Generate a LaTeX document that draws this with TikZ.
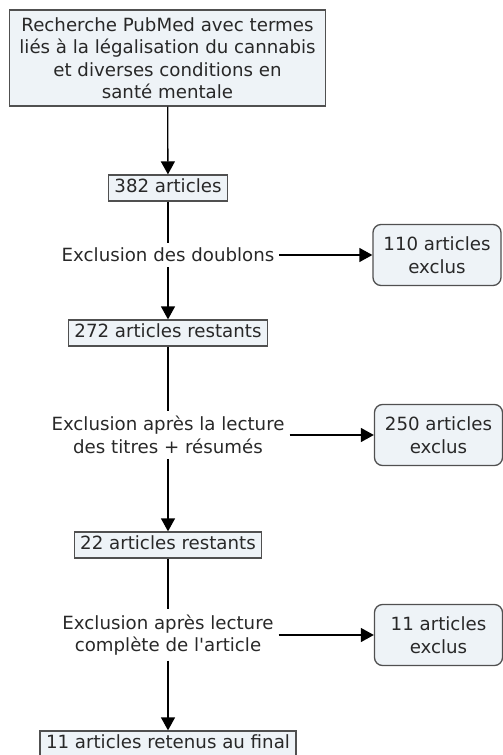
\documentclass[tikz,border=0pt]{standalone}
\usepackage{fontspec}
\setmainfont{DejaVu Sans}
\usetikzlibrary{arrows.meta}

\definecolor{boxfill}{RGB}{238,243,247}
\definecolor{boxline}{RGB}{80,80,80}
\definecolor{txt}{RGB}{40,40,40}

\tikzset{
	every node/.style={font=\fontsize{18.2pt}{22.5pt}\selectfont, text=txt},
	cadre/.style={draw=boxline, fill=boxfill, line width=1.3pt, align=center},
	stepbox/.style={cadre, text height=13pt, text depth=4pt, inner xsep=6pt, inner ysep=4.5pt},
	exclbox/.style={cadre, rounded corners=8pt, minimum width=128pt, minimum height=61pt},
	critere/.style={align=center, inner sep=5pt},
	fleche/.style={line width=1.3pt, -{Triangle[width=14pt,length=13pt]}},
	trait/.style={line width=1.3pt}
}

\begin{document}
\begin{tikzpicture}[x=1pt, y=-1pt]
	\useasboundingbox (0,0) rectangle (503,755);
	% colonne principale
	\node [cadre, inner xsep=10pt, inner ysep=7pt, minimum height=96pt] (recherche) at (167.5,58)
		{Recherche PubMed avec termes\\liés à la légalisation du cannabis\\et diverses conditions en\\santé mentale};
	\node [stepbox] (n382) at (168,188) {382 articles};
	\node [critere] (doublons) at (168,255) {Exclusion des doublons};
	\node [stepbox] (n272) at (168,333) {272 articles restants};
	\node [critere] (titres) at (168,435) {Exclusion après la lecture\\des titres + résumés};
	\node [stepbox] (n22) at (168,545) {22 articles restants};
	\node [critere] (lecture) at (168,635) {Exclusion après lecture\\complète de l\textquotesingle article};
	\node [stepbox] (final) at (168,744) {11 articles retenus au final};
	% articles exclus
	\node [exclbox] (excl1) at (437,255) {110 articles\\exclus};
	\node [exclbox] (excl2) at (438.5,435) {250 articles\\exclus};
	\node [exclbox] (excl3) at (438.5,635) {11 articles\\exclus};
	% liens
	\draw [fleche] (recherche) -- (n382);
	\draw [trait] (n382) -- (doublons);
	\draw [fleche] (doublons) -- (n272);
	\draw [fleche] (doublons) -- (excl1);
	\draw [trait] (n272) -- (titres);
	\draw [fleche] (titres) -- (n22);
	\draw [fleche] (titres) -- (excl2);
	\draw [trait] (n22) -- (lecture);
	\draw [fleche] (lecture) -- (final);
	\draw [fleche] (lecture) -- (excl3);
\end{tikzpicture}
\end{document}
